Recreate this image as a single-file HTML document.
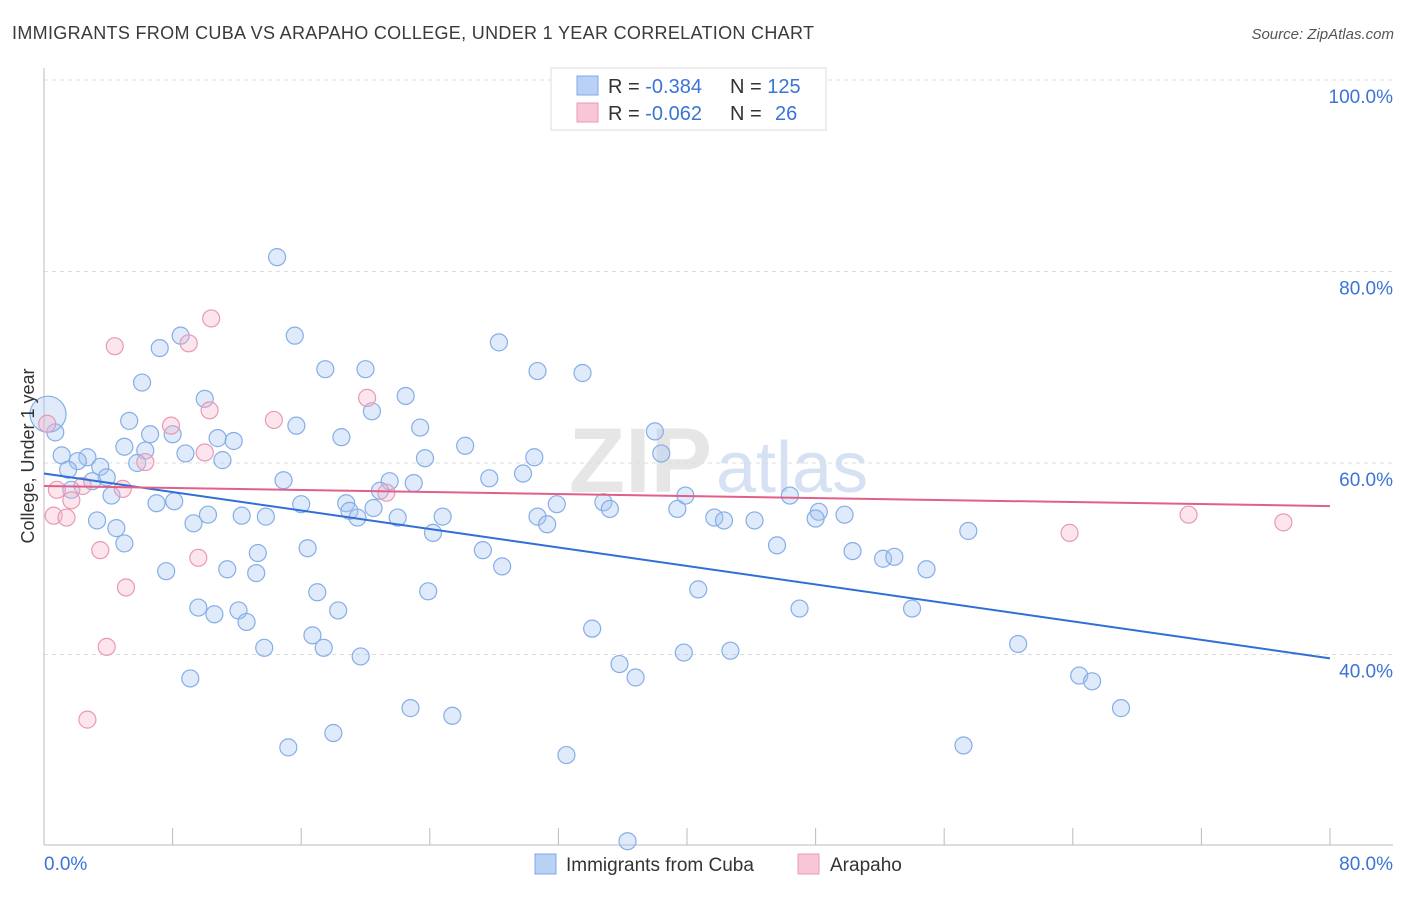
<!DOCTYPE html>
<html><head><meta charset="utf-8"><style>
body{margin:0;background:#fff;font-family:"Liberation Sans",sans-serif;}
svg text{font-family:"Liberation Sans",sans-serif;}
</style></head><body>
<svg id="chart" width="1406" height="892" xmlns="http://www.w3.org/2000/svg">
<text x="12" y="39" font-size="18" fill="#3a3a3a" textLength="802">IMMIGRANTS FROM CUBA VS ARAPAHO COLLEGE, UNDER 1 YEAR CORRELATION CHART</text>
<text x="1394" y="39" font-size="15" fill="#555" font-style="italic" text-anchor="end">Source: ZipAtlas.com</text>
<text x="712" y="492" font-size="92" fill="#e6e6e6" font-family="Liberation Serif" font-weight="bold" text-anchor="end">ZIP</text>
<text x="716" y="492" font-size="72" fill="#d6e2f4">atlas</text>
<g id="grid"></g>
<g id="axes"></g>
<g id="pts"></g>
<g id="lines"></g>
<text transform="translate(34,456) rotate(-90)" font-size="18" fill="#333" text-anchor="middle">College, Under 1 year</text>
<g>
<rect x="551" y="68" width="275" height="62" fill="#fff" stroke="#ddd"/>
<rect x="577" y="76" width="21" height="19" fill="#b9d1f4" stroke="#7ea9e6"/>
<rect x="577" y="103" width="21" height="19" fill="#f9c6d6" stroke="#e89ab4"/>
<text x="608" y="93" font-size="20" fill="#333">R = <tspan fill="#3a74d6">-0.384</tspan><tspan x="730">N = </tspan><tspan fill="#3a74d6">125</tspan></text>
<text x="608" y="120" font-size="20" fill="#333">R = <tspan fill="#3a74d6">-0.062</tspan><tspan x="730">N = </tspan><tspan fill="#3a74d6" x="775">26</tspan></text>
</g>
<g>
<rect x="535" y="854" width="21" height="20" fill="#b9d1f4" stroke="#7ea9e6"/>
<text x="566" y="871" font-size="19" fill="#333">Immigrants from Cuba</text>
<rect x="798" y="854" width="21" height="20" fill="#f9c6d6" stroke="#e89ab4"/>
<text x="830" y="871" font-size="19" fill="#333">Arapaho</text>
</g>
</svg>
<script>
const blueX=[14.5,15.6,8.5,7.2,28.3,30.7,33.5,17.5,20.0,6.1,10.0,22.5,20.4,5.3,15.7,23.4,0.7,6.6,8.0,18.5,10.8,11.8,5.0,26.2,38.0,1.1,8.8,6.3,2.7,23.7,30.5,38.4,2.1,11.1,5.8,3.5,1.5,29.8,27.7,14.9,21.5,23.0,3.9,1.7,3.0,20.9,4.2,39.9,46.4,8.1,7.0,16.0,31.9,34.8,18.8,19.0,20.5,35.2,39.4,48.2,49.8,3.3,10.2,12.3,13.8,19.5,22.0,24.8,30.7,31.3,41.7,42.3,44.2,48.0,9.3,4.5,24.2,57.5,5.0,45.6,13.3,16.4,27.3,50.3,52.2,52.9,7.6,11.4,13.2,28.5,54.9,17.0,23.9,40.7,9.6,12.1,18.3,47.0,54.0,10.6,12.6,34.1,16.7,17.4,13.7,19.7,39.8,42.7,60.6,35.8,36.8,9.1,64.4,65.2,22.8,25.4,67.0,18.0,15.2,57.2,32.5,36.3];
const blueY=[81.5,73.3,73.3,72.0,72.6,69.6,69.4,69.8,69.8,68.4,66.7,67.0,65.4,64.4,63.9,63.7,63.2,63.0,63.0,62.7,62.6,62.3,61.7,61.8,63.3,60.8,61.0,61.3,60.6,60.5,60.6,61.0,60.2,60.3,60.0,59.6,59.3,58.9,58.4,58.2,58.1,57.9,58.5,57.2,58.1,57.1,56.6,56.6,56.6,56.0,55.8,55.7,55.7,55.9,55.8,55.0,55.3,55.2,55.2,54.9,54.6,54.0,54.6,54.5,54.4,54.3,54.3,54.4,54.4,53.6,54.3,54.0,54.0,54.2,53.7,53.2,52.7,52.9,51.6,51.4,50.6,51.1,50.9,50.8,50.0,50.2,48.7,48.9,48.5,49.2,48.9,46.5,46.6,46.8,44.9,44.6,44.6,44.8,44.8,44.2,43.4,42.7,42.0,40.7,40.7,39.8,40.2,40.4,41.1,39.0,37.6,37.5,37.8,37.2,34.4,33.6,34.4,31.8,30.3,30.5,29.5,20.5];
const pinkX=[10.4,4.4,9.0,7.9,10.3,14.3,20.1,10.0,6.3,0.2,0.8,2.4,4.9,1.7,21.3,0.6,1.4,3.5,9.6,5.1,3.9,2.7,63.8,71.2,77.1];
const pinkY=[75.1,72.2,72.5,63.9,65.5,64.5,66.8,61.1,60.1,64.1,57.2,57.6,57.3,56.1,56.9,54.5,54.3,50.9,50.1,47.0,40.8,33.2,52.7,54.6,53.8];
const bigX=[0.25], bigY=[65.1];
const blueTrend=[58.9,39.6];
const pinkTrend=[57.6,55.5];
const yTicks=[100,80,60,40];
const xTickVals=[0,8,16,24,32,40,48,56,64,72,80];

const NS="http://www.w3.org/2000/svg";
const X0=44,X1=1330,Y100=80,PPU=9.575;
function sx(v){return X0+(X1-X0)*v/80;}
function sy(v){return Y100+(100-v)*PPU;}
function mk(tag,attrs,parent){const e=document.createElementNS(NS,tag);for(const k in attrs)e.setAttribute(k,attrs[k]);parent.appendChild(e);return e;}
const grid=document.getElementById('grid'),axes=document.getElementById('axes'),pts=document.getElementById('pts'),lines=document.getElementById('lines');
yTicks.forEach(v=>{
 const l=mk('line',{x1:X0,x2:1393,y1:sy(v),y2:sy(v),stroke:'#ddd','stroke-dasharray':'4,4'},grid);
 
 
 const t=mk('text',{x:1393,y:sy(v)+23,'font-size':19,fill:'#3a74d6','text-anchor':'end'},grid);
 t.textContent=v.toFixed(1)+'%';
 
 
});
const ya=mk('line',{x1:X0,x2:X0,y1:68,y2:845,stroke:'#bbb'},axes);


const xa=mk('line',{x1:X0,x2:1393,y1:845,y2:845,stroke:'#bbb'},axes);


xTickVals.forEach(v=>{
 const l=mk('line',{x1:sx(v),x2:sx(v),y1:828,y2:845,stroke:'#bbb'},axes);
 
 
});
[[0,'start',44],[80,'end',1393]].forEach(a=>{
 const t=mk('text',{x:a[2],y:870,'font-size':19,fill:'#3a74d6','text-anchor':a[1]},axes);
 t.textContent=a[0].toFixed(1)+'%';
 
 
});
blueX.forEach((x,i)=>{
 const c=mk('circle',{cx:sx(x),cy:sy(blueY[i]),r:8.5,fill:'rgba(164,196,240,0.35)',stroke:'#86aee6','stroke-width':1.2},pts);
 
 
});
bigX.forEach((x,i)=>{
 const c=mk('circle',{cx:sx(x),cy:sy(bigY[i]),r:18,fill:'rgba(164,196,240,0.35)',stroke:'#86aee6','stroke-width':1.2},pts);
 
 
});
pinkX.forEach((x,i)=>{
 const c=mk('circle',{cx:sx(x),cy:sy(pinkY[i]),r:8.5,fill:'rgba(246,180,200,0.35)',stroke:'#e89ab4','stroke-width':1.2},pts);
 
 
});
const bl=mk('line',{x1:sx(0),x2:sx(80),y1:sy(blueTrend[0]),y2:sy(blueTrend[1]),stroke:'#2f6fd6','stroke-width':2},lines);


const pl=mk('line',{x1:sx(0),x2:sx(80),y1:sy(pinkTrend[0]),y2:sy(pinkTrend[1]),stroke:'#e0608a','stroke-width':2},lines);


</script>
</body></html>
